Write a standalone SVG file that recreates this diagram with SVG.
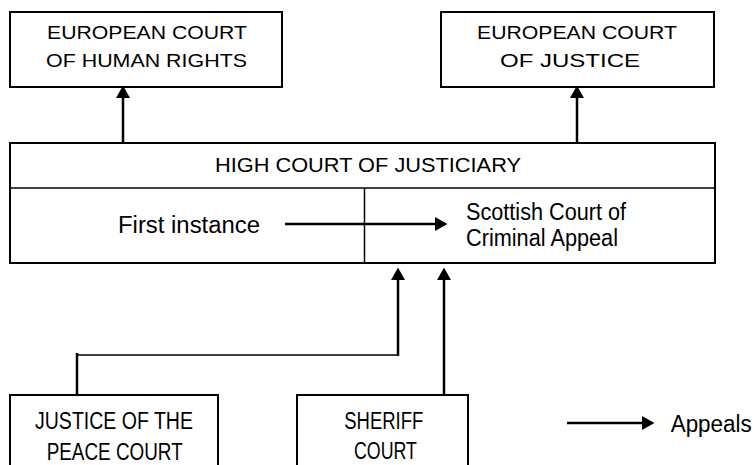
<svg xmlns="http://www.w3.org/2000/svg" width="755" height="465" viewBox="0 0 755 465">
<style>
  .box { fill: #ffffff; stroke: #000000; stroke-width: 2; }
  .div { fill: none; stroke: #000000; stroke-width: 1.5; }
  .arr { fill: none; stroke: #000000; stroke-width: 2.5; }
  .thin { fill: none; stroke: #000000; stroke-width: 1.5; }
  text { font-family: "Liberation Sans", Arial, sans-serif; fill: #000000; }
  .t1 { font-size: 17.5px; }
  .t2 { font-size: 19.5px; }
  .t3 { font-size: 23px; }
</style>
<defs>
  <marker id="ah" markerUnits="userSpaceOnUse" markerWidth="14" markerHeight="15" refX="6" refY="7.5" orient="auto">
    <path d="M0,0.5 L12.5,7.5 L0,14.5 z" fill="#000000"/>
  </marker>
</defs>

<g id="echr">
  <rect class="box" x="10" y="12" width="272" height="75"/>
  <text class="t1" x="47" y="38.5" textLength="200" lengthAdjust="spacingAndGlyphs">EUROPEAN COURT</text>
  <text class="t1" x="46" y="67" textLength="201" lengthAdjust="spacingAndGlyphs">OF HUMAN RIGHTS</text>
</g>

<g id="ecj">
  <rect class="box" x="441" y="12" width="273" height="75"/>
  <text class="t1" x="477" y="38.5" textLength="200" lengthAdjust="spacingAndGlyphs">EUROPEAN COURT</text>
  <text class="t1" x="500" y="67" textLength="140" lengthAdjust="spacingAndGlyphs">OF JUSTICE</text>
</g>

<g id="high-court">
  <rect class="box" x="10" y="143" width="705" height="120"/>
  <line class="div" x1="10" y1="188" x2="715" y2="188"/>
  <line class="div" x1="364.5" y1="188" x2="364.5" y2="263"/>
  <text class="t2" x="215" y="172" textLength="306" lengthAdjust="spacingAndGlyphs">HIGH COURT OF JUSTICIARY</text>
  <text class="t3" x="118" y="233" font-size="22" textLength="142" lengthAdjust="spacingAndGlyphs">First instance</text>
  <text class="t3" x="466" y="219.5" textLength="160" lengthAdjust="spacingAndGlyphs">Scottish Court of</text>
  <text class="t3" x="466" y="246" textLength="152" lengthAdjust="spacingAndGlyphs">Criminal Appeal</text>
</g>

<g id="jp-court">
  <rect class="box" x="10" y="395" width="208" height="90"/>
  <text class="t3" x="35" y="429" font-size="23.5" textLength="158" lengthAdjust="spacingAndGlyphs">JUSTICE OF THE</text>
  <text class="t3" x="46.7" y="460" font-size="23.5" textLength="136" lengthAdjust="spacingAndGlyphs">PEACE COURT</text>
</g>

<g id="sheriff-court">
  <rect class="box" x="297" y="395" width="171" height="90"/>
  <text class="t3" x="344.3" y="429" font-size="23.5" textLength="79" lengthAdjust="spacingAndGlyphs">SHERIFF</text>
  <text class="t3" x="354" y="458.5" font-size="23.5" textLength="63" lengthAdjust="spacingAndGlyphs">COURT</text>
</g>

<g id="legend">
  <line class="arr" x1="567" y1="423" x2="648" y2="423" marker-end="url(#ah)"/>
  <text class="t3" x="670.7" y="431.7" textLength="81" lengthAdjust="spacingAndGlyphs">Appeals</text>
</g>

<g id="connectors">
  <line class="arr" x1="123" y1="143" x2="123" y2="92" marker-end="url(#ah)"/>
  <line class="arr" x1="577" y1="143" x2="577" y2="92" marker-end="url(#ah)"/>
  <line class="arr" x1="285" y1="224" x2="441" y2="224" marker-end="url(#ah)"/>
  <polyline class="thin" points="77,355 398,355"/>
  <line class="arr" x1="77" y1="396" x2="77" y2="353"/>
  <line class="arr" x1="398" y1="356" x2="398" y2="274" marker-end="url(#ah)"/>
  <line class="arr" x1="444" y1="396" x2="444" y2="274" marker-end="url(#ah)"/>
</g>
</svg>
